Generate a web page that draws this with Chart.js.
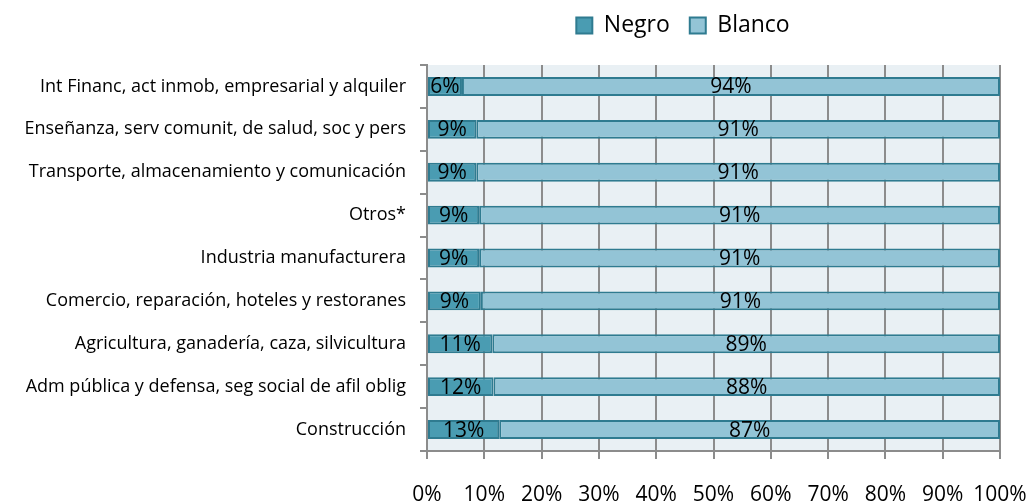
<!DOCTYPE html>
<html>
<head>
<meta charset="utf-8">
<script src="https://cdn.jsdelivr.net/npm/chart.js@4"></script>
<style>
  html, body { margin: 0; padding: 0; background: #fff; }
  #wrap { width: 1031px; height: 502px; }
</style>
</head>
<body>
<div id="wrap"><canvas id="sectoresChart"></canvas></div>
<script>
  // datos (porcentaje por rama de actividad)
  var categorias = [
    'Int Financ, act inmob, empresarial y alquiler',
    'Enseñanza, serv comunit, de salud, soc y pers',
    'Transporte, almacenamiento y comunicación',
    'Otros*',
    'Industria manufacturera',
    'Comercio, reparación, hoteles y restoranes',
    'Agricultura, ganadería, caza, silvicultura',
    'Adm pública y defensa, seg social de afil oblig',
    'Construcción'
  ];
  var negro = [6.1, 8.6, 8.6, 9.1, 9.1, 9.4, 11.4, 11.6, 12.6];
  var blanco = [93.9, 91.4, 91.4, 90.9, 90.9, 90.6, 88.6, 88.4, 87.4];

  var fuente = '"Open Sans", sans-serif';

  // fondo del área de trazado
  var fondoPlugin = {
    id: 'fondo',
    beforeDraw: function (chart) {
      var a = chart.chartArea, ctx = chart.ctx;
      ctx.save();
      ctx.fillStyle = '#e9f0f4';
      ctx.fillRect(a.left, a.top, a.right - a.left, a.bottom - a.top);
      ctx.restore();
    }
  };

  // etiquetas de porcentaje en el centro de cada segmento
  var etiquetasPlugin = {
    id: 'etiquetas',
    afterDatasetsDraw: function (chart) {
      var ctx = chart.ctx;
      ctx.save();
      ctx.font = '21px ' + fuente;
      ctx.fillStyle = '#000';
      ctx.textAlign = 'center';
      ctx.textBaseline = 'middle';
      chart.data.datasets.forEach(function (ds, i) {
        chart.getDatasetMeta(i).data.forEach(function (bar, j) {
          var cx = (bar.x + bar.base) / 2;
          ctx.fillText(Math.round(ds.data[j]) + '%', cx, bar.y + 1);
        });
      });
      ctx.restore();
    }
  };

  // leyenda: más espacio debajo y desplazada a la derecha
  var leyendaPlugin = {
    id: 'moverLeyenda',
    afterInit: function (chart) {
      var l = chart.legend;
      var fit = l.fit;
      l.fit = function () {
        fit.call(this);
        this.height += 8;
      };
    },
    afterLayout: function (chart) {
      chart.legend.left += 183;
      chart.legend.right += 183;
      chart.legend.top -= 10;
      chart.legend.bottom -= 10;
    }
  };

  var ctx = document.getElementById('sectoresChart').getContext('2d');
  var sectoresChart = new Chart(ctx, {
    type: 'bar',
    data: {
      labels: categorias,
      datasets: [{
        label: 'Negro',
        data: negro,
        backgroundColor: '#4a9cb2',
        borderColor: '#2f7b90',
        borderWidth: 2,
        borderSkipped: false
      }, {
        label: 'Blanco',
        data: blanco,
        backgroundColor: '#93c4d6',
        borderColor: '#2f7b90',
        borderWidth: 2,
        borderSkipped: false
      }]
    },
    options: {
      indexAxis: 'y',
      responsive: true,
      maintainAspectRatio: false,
      animation: false,
      barPercentage: 0.44,
      categoryPercentage: 1,
      layout: { padding: { left: 0, right: 31, top: 4, bottom: 0 } },
      plugins: {
        legend: {
          position: 'top',
          labels: {
            font: { family: fuente, size: 23 },
            color: '#000',
            boxWidth: 16,
            boxHeight: 16,
            padding: 20
          }
        },
        tooltip: { enabled: false }
      },
      scales: {
        x: {
          stacked: true,
          min: 0,
          max: 100,
          afterFit: function (s) {
            s.height = 51;
            s.paddingLeft = 0;
            s.paddingRight = 0;
          },
          ticks: {
            stepSize: 10,
            callback: function (v) { return v + '%'; },
            font: { family: fuente, size: 21 },
            color: '#000',
            padding: 23,
            maxRotation: 0
          },
          grid: { color: '#8c8c8c', lineWidth: 2, tickLength: 8 },
          border: { color: '#8c8c8c', width: 2 }
        },
        y: {
          stacked: true,
          afterFit: function (s) {
            s.width = 427;
            s.paddingTop = 0;
            s.paddingBottom = 0;
          },
          ticks: {
            font: { family: fuente, size: 18 },
            color: '#000',
            padding: 14
          },
          grid: { drawOnChartArea: false, color: '#8c8c8c', lineWidth: 2, tickLength: 7, offset: true },
          border: { color: '#8c8c8c', width: 2 }
        }
      }
    },
    plugins: [fondoPlugin, etiquetasPlugin, leyendaPlugin]
  });
</script>
</body>
</html>
